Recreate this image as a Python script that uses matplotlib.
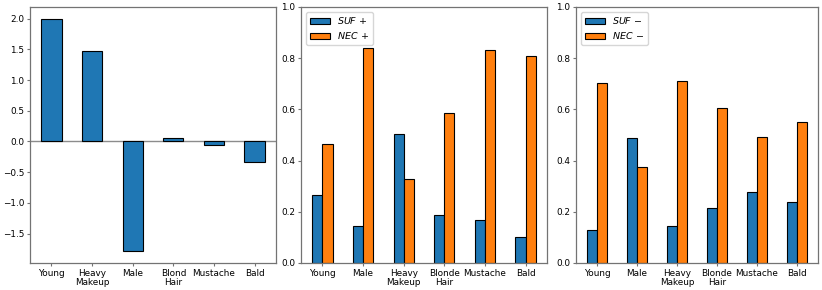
import matplotlib
matplotlib.use("Agg")
import matplotlib.pyplot as plt
import numpy as np

cats1 = ["Young", "Heavy\nMakeup", "Male", "Blond\nHair", "Mustache", "Bald"]
vals1 = [2.0, 1.47, -1.79, 0.06, -0.05, -0.33]

cats2 = ["Young", "Male", "Heavy\nMakeup", "Blonde\nHair", "Mustache", "Bald"]
suf_pos = [0.267, 0.146, 0.504, 0.186, 0.169, 0.100]
nec_pos = [0.466, 0.839, 0.329, 0.585, 0.832, 0.809]
suf_neg = [0.128, 0.488, 0.145, 0.215, 0.279, 0.240]
nec_neg = [0.702, 0.376, 0.710, 0.605, 0.493, 0.549]

BLUE = "#1f77b4"
ORANGE = "#ff7f0e"
SPINE = "0.45"
FS = 6.4

fig = plt.figure(figsize=(8.22, 2.9), dpi=100)
ax1 = fig.add_axes([30/822, 27/290, 246/822, 256/290])
ax2 = fig.add_axes([301/822, 27/290, 246/822, 256/290])
ax3 = fig.add_axes([576/822, 27/290, 242/822, 256/290])

def style(ax):
    for s in ax.spines.values():
        s.set_color(SPINE)
        s.set_linewidth(0.9)
    ax.tick_params(labelsize=FS, color=SPINE, length=2.5, width=0.8, pad=1.5)

x = np.arange(len(cats1))
ax1.bar(x, vals1, width=0.5, color=BLUE, edgecolor="black", linewidth=0.8)
ax1.axhline(0, color="0.55", linewidth=1.0, zorder=0)
ax1.set_xticks(x)
ax1.set_xticklabels(cats1, linespacing=1.0)
style(ax1)

def pair(ax, a, b, la, lb):
    xx = np.arange(len(cats2))
    w = 0.25
    ax.bar(xx - w/2, a, width=w, color=BLUE, edgecolor="black", linewidth=0.8, label=la)
    ax.bar(xx + w/2, b, width=w, color=ORANGE, edgecolor="black", linewidth=0.8, label=lb)
    ax.set_ylim(0, 1.0)
    ax.set_xticks(xx)
    ax.set_xticklabels(cats2, linespacing=1.0)
    style(ax)
    ax.legend(loc="upper left", fontsize=6.8, handlelength=2.2, handleheight=0.6,
              borderpad=0.4, labelspacing=0.4, handletextpad=0.7, framealpha=0.8)

pair(ax2, suf_pos, nec_pos, r"$SUF\,+$", r"$NEC\,+$")
pair(ax3, suf_neg, nec_neg, r"$SUF\,-$", r"$NEC\,-$")

fig.savefig("out.png", dpi=100)
